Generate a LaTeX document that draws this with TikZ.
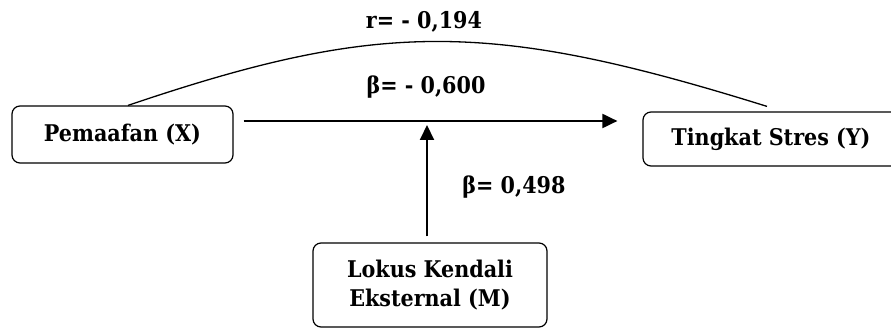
\documentclass[tikz,border=0pt]{standalone}
\usepackage{fontspec}
\setmainfont{DejaVu Serif Condensed}
\usetikzlibrary{arrows.meta}
\newcommand\labfont{\bfseries\fontsize{23}{29}\selectfont}
\begin{document}
\begin{tikzpicture}[x=1pt,y=1pt,
  var/.style={draw, line width=1.2pt, rounded corners=8pt, inner sep=0pt,
              font=\labfont, align=center},
  lab/.style={font=\labfont, inner sep=0pt},
  effect/.style={line width=2pt, -{Triangle[length=15pt,width=14pt]}}]
\useasboundingbox (0,0) rectangle (891,329);
\clip (0,0) rectangle (891,329);

% variables
\node[var, minimum width=221, minimum height=57] (pem) at (122.5,194.5) {Pemaafan (X)};
\node[var, minimum width=256, minimum height=54] (tin) at (771,190) {Tingkat Stres (Y)};
\node[var, minimum width=234, minimum height=84] (mod) at (430,44)
  {Lokus Kendali\\Eksternal (M)};

% ends of the direct path and the moderation point
\coordinate (xs) at ([shift={(10,13.5)}]pem.east);
\coordinate (xe) at ([shift={(-25,18)}]tin.west);
\coordinate (mj) at (427,204);

% correlation arc
\draw[line width=1.3pt] ([xshift=5.5]pem.north)
  .. controls (380,309) and (490,309) .. ([shift={(-4,5)}]tin.north);

% direct effect and moderation
\draw[effect] (xs) -- (xe);
\draw[effect] ([shift={(-3,6)}]mod.north) -- (mj);

% coefficients
\node[lab] (rlab) at (424,307) {r= - 0,194};
\node[lab] (blab) at (426,242) {β= - 0,600};
\node[lab] (mlab) at (514,142) {β= 0,498};
\end{tikzpicture}
\end{document}
